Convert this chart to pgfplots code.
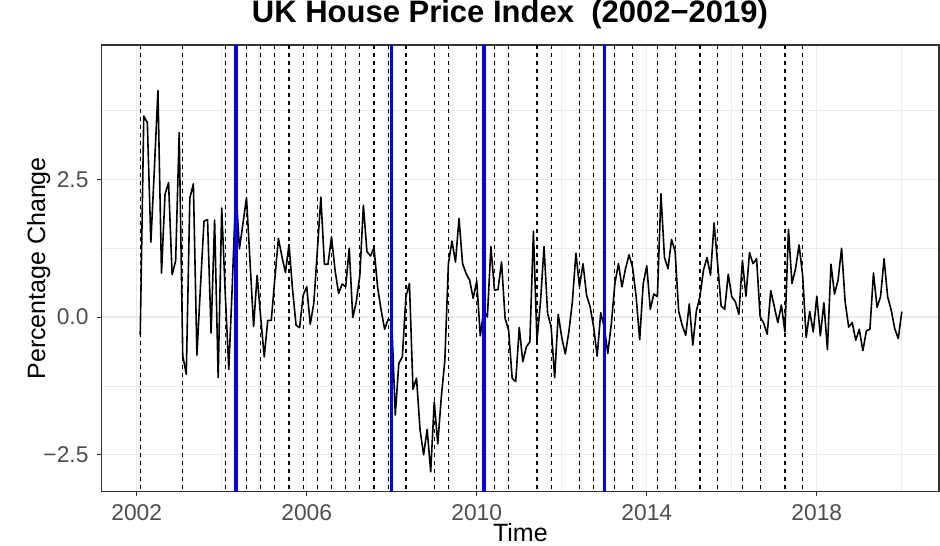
\documentclass[border=0pt]{standalone}
\usepackage{fontspec}
\setmainfont{Liberation Sans}
\usepackage{pgfplots}
\pgfplotsset{compat=1.18}
\definecolor{grid92}{RGB}{235,235,235}
\definecolor{grey20}{RGB}{51,51,51}
\definecolor{grey30}{RGB}{77,77,77}

\begin{document}
\begin{tikzpicture}
\useasboundingbox (-50.85bp,-27.15bp) rectangle (419.15bp,245.85bp);
\begin{axis}[
  at={(0,0)}, anchor=south west,
  scale only axis, width=418.65bp, height=223.35bp,
  xmin=-9.88, xmax=226.5, ymin=-3.17, ymax=4.94,
  % x axis in months since Jan 2002
  xtick={0,48,96,144,192}, xticklabels={2002,2006,2010,2014,2018},
  minor xtick={24,72,120,168,216},
  ytick={-2.5,0,2.5}, yticklabels={−2.5,0.0,2.5},
  minor ytick={-1.25,1.25,3.75},
  grid=both,
  major grid style={grid92, line width=0.7bp},
  minor grid style={grid92, line width=0.35bp},
  axis line style={grey20, line width=0.55bp},
  tick style={grey20, line width=0.55bp},
  tick align=outside, tick pos=left,
  major tick length=2.2bp, minor tick length=0pt,
  ticklabel style={font=\fontsize{11.4bp}{13bp}\selectfont, text=grey30, inner sep=0pt},
  xticklabel style={anchor=base, yshift=-12.15bp},
  yticklabel style={anchor=east, xshift=-4.2bp},
  title={UK House Price Index~~(2002−2019)},
  title style={font=\bfseries\fontsize{15.5bp}{18bp}\selectfont, at={(axis description cs:0.4876,1)}, anchor=base, yshift=5.5bp},
  xlabel={Time},
  xlabel style={font=\fontsize{12.5bp}{15bp}\selectfont, at={(axis description cs:0.5,-0.1104)}, anchor=base},
  ylabel={Percentage Change},
  ylabel style={font=\fontsize{12.5bp}{15bp}\selectfont, at={(axis description cs:-0.0677,0.5)}, anchor=base},
]

% quarterly markers
\pgfplotsinvokeforeach{1,13,25,31,35,39,43,47,51,55,59,63,67,71,76,84,88,96,101,105,113,117,125,129,135,140,147,152,159,164,171,176,183,188}{
  \addplot[black, line width=0.6bp, dash pattern=on 2.2bp off 1.8bp] coordinates {(#1,-4) (#1,6)};
}

\addplot[black, line width=0.8bp, line join=round] table {
k y
1 -0.33
2 3.65
3 3.53
4 1.36
5 2.70
6 4.11
7 0.80
8 2.23
9 2.44
10 0.77
11 1.02
12 3.35
13 -0.70
14 -1.04
15 2.16
16 2.42
17 -0.69
18 0.55
19 1.74
20 1.77
21 -0.29
22 1.76
23 -1.10
24 1.98
25 0.43
26 -0.95
27 0.60
28 2.35
29 1.24
30 1.70
31 2.17
32 1.00
33 -0.17
34 0.76
35 0.00
36 -0.72
37 -0.06
38 -0.06
39 0.70
40 1.43
41 1.10
42 0.81
43 1.32
44 0.50
45 -0.15
46 -0.19
47 0.40
48 0.55
49 -0.13
50 0.25
51 1.20
52 2.18
53 0.96
54 0.96
55 1.46
56 0.85
57 0.43
58 0.60
59 0.55
60 1.25
61 -0.01
62 0.28
63 0.76
64 2.03
65 1.19
66 1.11
67 1.26
68 0.55
69 0.13
70 -0.22
71 -0.04
72 -0.07
73 -1.78
74 -0.84
75 -0.72
76 0.37
77 0.61
78 -1.31
79 -1.11
80 -2.05
81 -2.50
82 -2.04
83 -2.81
84 -1.54
85 -2.30
86 -1.45
87 -0.78
88 0.97
89 1.38
90 1.00
91 1.79
92 0.97
93 0.79
94 0.67
95 0.34
96 0.66
97 -0.34
98 0.13
99 0.00
100 1.28
101 0.49
102 0.50
103 1.00
104 -0.02
105 -0.24
106 -1.11
107 -1.17
108 -0.19
109 -0.81
110 -0.54
111 -0.45
112 1.56
113 -0.43
114 0.28
115 1.28
116 0.07
117 -0.18
118 -1.10
119 0.05
120 -0.37
121 -0.67
122 -0.27
123 0.28
124 1.16
125 0.55
126 0.97
127 0.40
128 0.19
129 -0.18
130 -0.71
131 0.08
132 -0.18
133 -0.66
134 -0.12
135 0.61
136 0.97
137 0.55
138 0.88
139 1.13
140 0.90
141 0.37
142 -0.41
143 0.61
144 0.93
145 0.14
146 0.42
147 0.37
148 2.24
149 1.08
150 0.88
151 1.41
152 1.19
153 0.11
154 -0.15
155 -0.33
156 0.24
157 -0.51
158 0.11
159 0.37
160 0.85
161 1.08
162 0.76
163 1.71
164 0.97
165 0.20
166 0.14
167 0.78
168 0.37
169 0.28
170 0.05
171 1.03
172 0.38
173 1.17
174 0.97
175 1.06
176 0.01
177 -0.11
178 -0.31
179 0.48
180 0.19
181 -0.10
182 0.22
183 -0.27
184 1.59
185 0.61
186 0.88
187 1.31
188 0.76
189 -0.37
190 0.10
191 -0.27
192 0.38
193 -0.34
194 0.26
195 -0.59
196 0.96
197 0.42
198 0.67
199 1.25
200 0.28
201 -0.18
202 -0.10
203 -0.42
204 -0.22
205 -0.61
206 -0.25
207 -0.22
208 0.80
209 0.18
210 0.37
211 1.06
212 0.37
213 0.13
214 -0.21
215 -0.39
216 0.10
};

% breakpoints
\pgfplotsinvokeforeach{28,72,98,132}{
  \addplot[blue, line width=1.75bp] coordinates {(#1,-4) (#1,6)};
}
\end{axis}
\end{tikzpicture}
\end{document}
